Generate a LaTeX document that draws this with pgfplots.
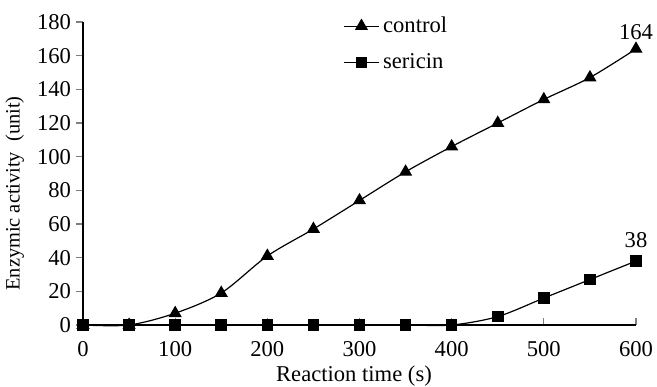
\documentclass[border=0pt]{standalone}
\usepackage{fontspec}
\setmainfont{Liberation Serif}
\usepackage{pgfplots}
\pgfplotsset{compat=1.18}
\begin{document}
\begin{tikzpicture}
\begin{axis}[
  scale only axis,
  width=276.5pt, height=151.5pt,
  xmin=0, xmax=600, ymin=0, ymax=180,
  axis x line=bottom, axis y line=left,
  axis line style={-, line width=0.6pt},
  xtick={0,100,...,600}, ytick={0,20,...,180},
  x tick style={line width=0.6pt}, y tick style={line width=0.6pt},
  xtick align=inside, ytick align=outside,
  major tick length=3.5pt,
  tick label style={font=\fontsize{11.3}{13}\selectfont},
  xticklabel style={yshift=-4.5pt},
  yticklabel style={xshift=1pt},
  /pgf/number format/assume math mode=true,
  xlabel={Reaction time (s)},
  ylabel={Enzymic activity\ \ (unit)},
  xlabel style={font=\fontsize{11.3}{13}\selectfont, at={(axis description cs:0.49,-0.112)}, anchor=north},
  ylabel style={font=\fontsize{10.2}{12}\selectfont, at={(axis description cs:-0.094,0.434)}, anchor=south},
  clip=false,
  legend style={draw=none, fill=none, at={(0.46,1.045)}, anchor=north west,
    font=\fontsize{11.3}{13}\selectfont, row sep=5pt},
  legend cell align=left,
]
\addplot[black, line width=0.6pt, smooth, tension=0.5, mark=triangle*, mark size=3.2pt, mark options={solid}]
  coordinates {(0,0) (50,0) (100,7) (150,19) (200,41) (250,57) (300,74) (350,91) (400,106) (450,120) (500,134) (550,147) (600,164)};
\addlegendentry{control}
\addplot[black, line width=0.6pt, smooth, tension=0.5, mark=square*, mark size=2.6pt]
  coordinates {(0,0) (50,0) (100,0) (150,0) (200,0) (250,0) (300,0) (350,0) (400,0) (450,5) (500,16) (550,27) (600,38)};
\addlegendentry{sericin}
\node[above, font=\fontsize{11.3}{13}\selectfont, yshift=1pt] at (axis cs:600,164) {164};
\node[above, font=\fontsize{11.3}{13}\selectfont, yshift=3pt] at (axis cs:600,38) {38};
\end{axis}
\pgfresetboundingbox
\path (-41.5pt,-30.5pt) rectangle (287pt,162.5pt);
\end{tikzpicture}
\end{document}
